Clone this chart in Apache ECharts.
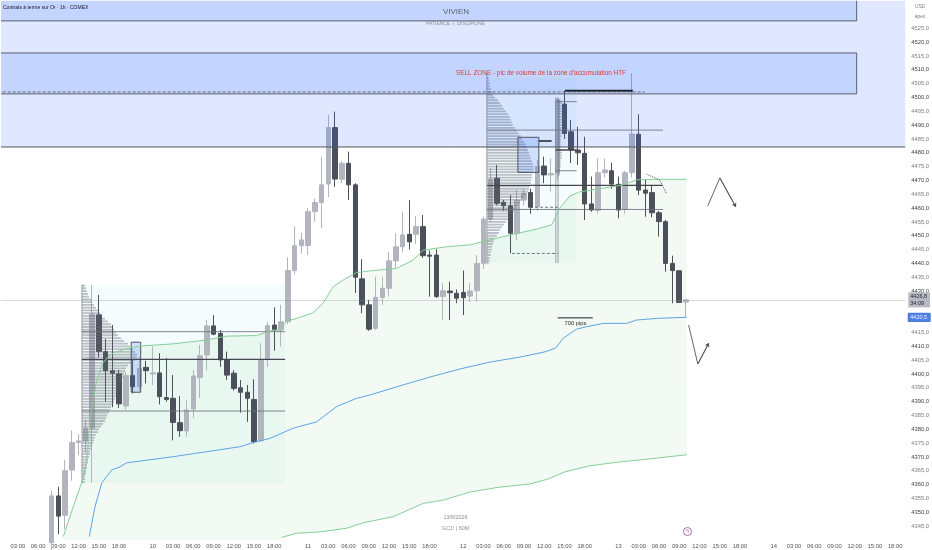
<!DOCTYPE html>
<html><head><meta charset="utf-8">
<script src="https://cdn.jsdelivr.net/npm/echarts@6/dist/echarts.min.js"></script>
<style>html,body{margin:0;padding:0;background:#fff}#c{width:932px;height:550px}</style>
</head><body><div id="c"></div><script>
// ---------- calendar / categories ----------
const days = [9, 10, 11, 12, 13, 14];
const sessionHours = [0,1,2,3,4,5,6,7,8,9,10,11,12,13,14,15,16,17,18,19,20,21,22];
const firstBar = [9, 1];
const lastBar = [14, 19];
const labelHours = [0, 3, 6, 9, 12, 15, 18];
const firstCandle = '9|8';

// ---------- hourly candles [open, high, low, close] ----------
const ohlc = [
 // day 9 (08:00 - 22:00)
 [4339.0,4357.8,4336.0,4355.9],[4355.9,4359.2,4342.1,4348.6],[4348.9,4369.0,4343.9,4365.0],
 [4365.3,4379.5,4361.4,4375.2],[4375.2,4378.3,4370.7,4375.8],[4375.7,4383.4,4371.4,4380.5],
 [4380.3,4432.2,4360.7,4421.7],[4421.4,4428.6,4406.0,4408.1],[4408.1,4412.7,4390.0,4401.2],
 [4401.2,4417.7,4388.0,4400.3],[4400.1,4401.5,4387.7,4389.2],[4388.4,4400.8,4387.0,4399.4],
 [4399.4,4405.0,4393.0,4395.4],[4395.4,4406.0,4394.0,4402.0],[4402.4,4404.8,4396.6,4401.2],
 // day 10
 [4400.0,4410.0,4396.0,4400.4],[4400.4,4407.5,4389.0,4391.8],[4391.5,4405.8,4390.0,4390.8],
 [4391.2,4399.6,4376.0,4382.5],[4382.4,4392.0,4377.3,4379.5],[4379.4,4390.6,4377.3,4387.0],
 [4387.3,4401.4,4384.1,4399.3],[4398.7,4410.5,4391.3,4406.6],[4406.9,4419.5,4401.4,4417.4],
 [4417.4,4421.3,4414.0,4414.4],[4414.7,4415.9,4402.6,4405.1],[4405.1,4408.1,4397.8,4399.6],
 [4400.3,4401.4,4394.0,4394.8],[4395.0,4397.8,4386.0,4393.4],[4393.4,4396.0,4382.7,4391.2],
 [4390.8,4398.1,4374.9,4375.5],[4375.9,4411.1,4375.5,4405.1],[4405.3,4418.9,4402.6,4417.5],
 [4417.7,4424.1,4408.4,4415.9],[4415.9,4425.0,4409.9,4418.9],[4418.9,4442.2,4418.0,4437.4],
 [4437.4,4453.5,4436.0,4446.4],[4446.4,4451.1,4443.6,4448.5],
 // day 11
 [4446.5,4459.9,4443.0,4458.7],[4458.7,4463.5,4455.0,4462.0],[4462.0,4478.6,4452.7,4468.4],
 [4468.7,4493.7,4464.0,4489.1],[4489.1,4494.9,4467.7,4470.5],[4470.4,4477.0,4469.0,4476.2],
 [4476.2,4480.4,4462.9,4468.4],[4468.4,4469.0,4429.3,4435.0],[4434.4,4441.5,4422.0,4425.0],
 [4425.0,4426.8,4415.6,4416.2],[4416.5,4435.2,4416.0,4427.7],[4427.7,4435.2,4425.0,4431.0],
 [4431.0,4444.2,4428.0,4440.9],[4440.9,4450.9,4438.0,4446.0],[4446.0,4458.7,4444.0,4450.3],
 [4450.5,4462.9,4445.0,4447.8],[4450.5,4457.1,4447.0,4453.3],[4453.3,4457.5,4442.0,4442.8],
 [4443.0,4444.6,4428.0,4442.6],[4443.0,4445.1,4427.5,4428.0],[4428.0,4432.8,4419.5,4430.1],
 [4430.0,4433.4,4419.5,4429.4],[4429.2,4430.6,4425.6,4427.4],
 // day 12
 [4429.5,4437.4,4421.3,4427.6],[4428.2,4432.8,4426.0,4430.0],[4430.1,4443.0,4426.2,4440.0],
 [4440.0,4457.0,4438.0,4456.0],[4456.0,4474.5,4455.0,4470.5],[4470.8,4475.6,4461.0,4461.7],
 [4462.1,4463.0,4459.0,4460.8],[4460.8,4464.7,4443.7,4450.9],[4450.9,4466.5,4448.5,4462.9],
 [4462.9,4466.8,4461.0,4465.4],[4465.6,4467.0,4458.0,4460.3],[4460.5,4477.4,4459.0,4475.0],
 [4475.2,4478.6,4469.0,4472.0],[4472.0,4478.0,4466.0,4472.5],[4472.5,4500.0,4470.0,4499.1],
 [4497.6,4502.4,4485.0,4487.0],[4487.6,4491.9,4476.3,4481.0],[4481.0,4489.4,4475.6,4480.0],
 [4479.8,4485.8,4455.7,4461.5],[4461.5,4471.4,4458.7,4459.3],[4459.1,4478.0,4458.0,4472.8],
 [4472.8,4478.0,4471.0,4473.8],[4473.5,4476.4,4467.0,4468.7],
 // day 13 (00:00 - 10:00)
 [4468.6,4471.4,4456.3,4459.3],[4459.6,4473.5,4458.0,4472.8],[4472.8,4508.8,4471.0,4486.8],
 [4486.7,4493.9,4464.7,4466.5],[4466.5,4470.2,4456.9,4465.4],[4465.6,4468.0,4456.7,4458.3],
 [4458.3,4459.0,4449.7,4455.1],[4455.1,4455.7,4437.0,4440.0],[4440.0,4442.8,4425.6,4437.4],
 [4437.3,4437.6,4425.7,4425.9],[4426.0,4427.2,4420.5,4426.8]
];
const lastPrice = 4426.8;
const vwapLast = 4420.5;

// ---------- bands: [bar index, price] ----------
const vwapUpper = [[8.73,4341.2],[10.21,4352.0],[11.6,4361.7],[12.2,4368.9],[12.69,4383.4],[13.68,4397.8],
 [14.61,4404.0],[15.65,4406.9],[16.64,4408.1],[18.6,4409.4],[20.1,4410.1],[25.0,4410.9],[29.97,4412.3],
 [32.94,4413.7],[37.38,4413.9],[39.8,4415.9],[40.83,4415.9],[41.83,4419.2],[43.31,4420.1],[45.72,4422.1],
 [47.25,4425.7],[48.73,4431.6],[50.21,4434.0],[52.2,4436.7],[54.66,4437.4],[58.12,4438.2],[60.58,4441.2],
 [62.06,4444.8],[65.53,4446.0],[68.98,4446.7],[73.91,4449.7],[78.86,4452.4],[81.09,4453.9],[82.31,4460.0],
 [83.8,4464.4],[85.28,4465.9],[88.73,4467.2],[91.69,4468.4],[93.68,4470.2],[96.14,4470.4],[101.09,4470.4]];
const vwap = [[12.58,4341.2],[13.43,4352.0],[14.42,4360.5],[15.9,4365.3],[17.13,4366.4],[18.12,4367.9],
 [20.09,4368.5],[25.03,4370.1],[29.97,4371.9],[34.91,4373.7],[36.88,4375.2],[39.35,4376.7],[42.8,4380.4],
 [46.27,4382.7],[49.23,4388.2],[52.2,4391.2],[54.17,4392.4],[58.61,4395.7],[63.06,4398.9],[67.5,4401.8],
 [71.94,4404.3],[76.39,4406.1],[80.09,4408.0],[81.7,4409.4],[82.8,4412.9],[84.79,4416.2],[86.27,4417.1],
 [88.73,4418.3],[92.2,4418.3],[93.68,4419.5],[96.64,4420.1],[101.09,4420.5]];
const vwapLower = [[41.09,4340.9],[43.31,4342.4],[46.76,4342.9],[50.71,4344.2],[53.17,4346.2],[57.62,4348.4],
 [62.06,4353.2],[65.03,4354.4],[68.98,4357.3],[73.43,4359.1],[77.87,4360.2],[80.54,4362.0],[83.06,4364.6],
 [86.76,4366.8],[91.2,4368.2],[95.65,4369.3],[101.13,4370.8]];

// ---------- volume profiles (rows of 1 point, from top price downward) ----------
const profile1Top = 4432;
const profile1Vol = [3,4,5,6,7,9,10,12,14,16,18,20,23,26,29,31,32,34,36,39,42,46,48,51,53,55,55,53,49,46,44,43,
 42,41,40,39,38,37,36,35,34,33,32,30,29,28,27,25,24,23,21,19,17,16,14,13,12,11,10,9,8,8,7,6,6,5,5,4,4,3,3,3];
const profile2Top = 4507;
const profile2Vol = [2,2,3,3,4,5,6,8,11,13,15,17,19,21,23,24,25,26,28,30,32,34,35,37,39,40,41,42,43,44,45,46,47,47,
 46,45,45,44,44,43,42,41,39,37,35,33,31,29,27,25,23,21,19,17,15,13,12,10,8,7,6,5,5,4,4,3,3,2];
const profile3Top = 4499;
const profile3Vol = [3,4,4,5,5,5,6,6,5,5,4,4,4,4,3,3,3,3,3,4,4,4,3,3,3,2,2,2];
const profileStart = [11.5, 71.5, 82.0];
const profileLevels = [ // [x0, x1, VAH, POC, VAL]
 [11.5, 41.6, 4415.3, 4405.3, 4386.6],
 [71.5, 97.6, 4488.2, 4468.2, 4459.5],
 [81.7, 84.8, 4498.5, 4481.0, 4473.5]];
const profileBoxes = [[11.5, 4360.6, 41.6, 4432.2], [71.5, 4440.1, 84.8, 4507.0]];
const profileAxes = [[11.5, 4360.6, 4432.2], [71.5, 4440.1, 4508.8], [81.72, 4440.1, 4500.0], [82.05, 4440.1, 4500.0]];

// ---------- drawings ----------
const zoneBand = [-1, 4482.1, 133.5, 4545];
const titledBoxes = [[-1, 4527.7, 126.3, 4545], [-1, 4501.3, 126.3, 4516.1]];
const smallBoxes = [[18.8, 4393.4, 20.2, 4411.5], [76.1, 4472.9, 79.2, 4485.6]];
const solidLevels = [[83.06, 93.13, 4502.4, 2], [79.2, 81.1, 4484.3, 1.5], [82.0, 87.2, 4420.3, 1]];
const dashedLevels = [[-1, 94.9, 4502.0], [75.2, 82.0, 4443.6], [77.9, 82.0, 4460.3]];
const zigzagUp = [[104.24, 4460.8], [106.02, 4470.9], [108.4, 4460.4]];
const zigzagDown = [[101.4, 4417.7], [102.76, 4403.6], [104.39, 4411.2]];
const projection = [[95.16, 4472.3], [97.13, 4470.1], [98.12, 4465.1]];

const yMin = 4340, yMax = 4535;

// ---------- build ----------
const categories = [];
days.forEach(d => sessionHours.forEach(h => {
  if ((d > firstBar[0] || h >= firstBar[1]) && (d < lastBar[0] || h <= lastBar[1])) categories.push(d + '|' + h);
}));
const start = categories.indexOf(firstCandle);
const candleData = categories.map((c, i) => {
  const r = ohlc[i - start];
  return r ? [r[0], r[3], r[2], r[1]] : ['-', '-', '-', '-'];
});
const barPx = 6.75;

function rectSeries(rects, style, z) {
  return { type: 'custom', xAxisIndex: 1, yAxisIndex: 0, z, silent: true, clip: true,
    data: rects,
    renderItem(params, api) {
      const a = api.coord([api.value(0), api.value(3)]);
      const b = api.coord([api.value(2), api.value(1)]);
      return { type: 'rect', shape: { x: a[0], y: a[1], width: b[0] - a[0], height: b[1] - a[1] }, style };
    } };
}
function hSegSeries(segs, color, width, type, z) {
  return { type: 'custom', xAxisIndex: 1, yAxisIndex: 0, z, silent: true, clip: true,
    data: segs.map(s => [s[0], s[2], s[1], s[3] || width]),
    renderItem(params, api) {
      const a = api.coord([api.value(0), api.value(1)]);
      const b = api.coord([api.value(2), api.value(1)]);
      return { type: 'line', shape: { x1: a[0], y1: a[1], x2: b[0], y2: b[1] },
        style: { stroke: color, lineWidth: api.value(3), lineDash: type === 'dashed' ? [3, 2] : null } };
    } };
}
function profileSeries(x0, top, vols) {
  return { type: 'custom', xAxisIndex: 1, yAxisIndex: 0, z: 3, silent: true, clip: true,
    data: vols.map((v, i) => [x0, top - i, v]),
    renderItem(params, api) {
      const p = api.value(1), v = api.value(2);
      const a = api.coord([x0, p + 0.33]);
      const b = api.coord([x0 + v / barPx, p - 0.33]);
      return { type: 'rect', shape: { x: a[0], y: a[1], width: b[0] - a[0], height: b[1] - a[1] },
        style: { fill: 'rgba(105,108,120,0.42)' } };
    } };
}
function lineSeries(data, color, width, type, z, extra) {
  return Object.assign({ type: 'line', xAxisIndex: 1, yAxisIndex: 0, data, symbol: 'none', silent: true, z,
    lineStyle: { color, width, type }, animation: false }, extra || {});
}

const levelSegs = [], pocSegs = [];
profileLevels.forEach(l => { levelSegs.push([l[0], l[1], l[2]], [l[0], l[1], l[4]]); pocSegs.push([l[0], l[1], l[3]]); });

const font = 'Liberation Sans';
const series = [
  // green band fill
  { type: 'custom', xAxisIndex: 1, yAxisIndex: 0, z: 1, silent: true, clip: true, data: [[0, 4400]],
    renderItem(params, api) {
      const pts = vwapUpper.map(p => api.coord(p));
      for (let i = vwapLower.length - 1; i >= 0; i--) pts.push(api.coord(vwapLower[i]));
      pts.push(api.coord([vwapLower[0][0], yMin]));
      pts.push(api.coord([vwapUpper[0][0], yMin]));
      return { type: 'polygon', shape: { points: pts }, style: { fill: 'rgba(76,175,80,0.065)' } };
    } },
  rectSeries(profileBoxes, { fill: 'rgba(0,172,193,0.04)' }, 1),
  { type: 'candlestick', xAxisIndex: 0, yAxisIndex: 0, data: candleData, barWidth: 5, z: 2, silent: true,
    itemStyle: { color: '#b2b5be', color0: '#4c505b', borderColor: '#b2b5be', borderColor0: '#4c505b', borderWidth: 1 },
    markLine: { silent: true, symbol: 'none', animation: false,
      data: [
        { yAxis: lastPrice, lineStyle: { color: 'rgba(140,143,152,0.35)', width: 1, type: 'solid' },
          label: { show: true, position: 'end', distance: 3, formatter: '4426,8\n34:09', backgroundColor: '#b8bbc3',
            color: '#1e222d', fontSize: 5.5, lineHeight: 6.5, padding: [1, 3, 1, 2], fontFamily: font } }
      ] } },
  profileSeries(profileStart[0], profile1Top, profile1Vol),
  profileSeries(profileStart[1], profile2Top, profile2Vol),
  profileSeries(profileStart[2], profile3Top, profile3Vol),
  { type: 'custom', xAxisIndex: 1, yAxisIndex: 0, z: 3, silent: true, clip: true, data: profileAxes,
    renderItem(params, api) {
      const a = api.coord([api.value(0), api.value(1)]);
      const b = api.coord([api.value(0), api.value(2)]);
      return { type: 'line', shape: { x1: a[0], y1: a[1], x2: b[0], y2: b[1] }, style: { stroke: 'rgba(120,123,134,0.7)', lineWidth: 1 } };
    } },
  rectSeries([zoneBand], { fill: 'rgba(41,98,255,0.15)' }, 3),
  rectSeries(titledBoxes, { fill: 'rgba(41,98,255,0.15)', stroke: '#5d606b', lineWidth: 1 }, 3),
  rectSeries(smallBoxes, { fill: 'rgba(41,98,255,0.18)', stroke: '#50535e', lineWidth: 1 }, 3),
  hSegSeries([[-1, 133.5, zoneBand[1]]], '#50535e', 1, 'solid', 4),
  hSegSeries(levelSegs, 'rgba(110,113,124,0.85)', 1, 'solid', 4),
  hSegSeries(pocSegs, '#434651', 1.3, 'solid', 4),
  hSegSeries(solidLevels, '#1e222d', 1, 'solid', 4),
  hSegSeries(dashedLevels, '#50535e', 0.8, 'dashed', 4),
  lineSeries(vwapUpper, '#86cf98', 1, 'solid', 4),
  lineSeries(vwap, '#5ea3e6', 1, 'solid', 4, { markLine: { silent: true, symbol: 'none', animation: false,
    data: [{ yAxis: vwapLast, lineStyle: { color: 'rgba(0,0,0,0)', width: 0 },
      label: { show: true, position: 'end', distance: 3, formatter: '4420,5', backgroundColor: '#4d7fe6',
        borderColor: '#2a56c6', borderWidth: 0.5, color: '#eef3ff', fontSize: 5.5, padding: [1, 3, 1, 2], fontFamily: font } }] } }),
  lineSeries(vwapLower, '#86cf98', 1, 'solid', 4),
  lineSeries(projection, '#50535e', 1, 'dotted', 4),
  lineSeries(zigzagUp, '#50535e', 0.9, 'solid', 4, { markLine: { silent: true, symbol: ['none', 'arrow'], symbolSize: 4,
    animation: false, label: { show: false }, lineStyle: { color: '#50535e', width: 0.9, type: 'solid' },
    data: [[{ coord: zigzagUp[1] }, { coord: zigzagUp[2] }]] } }),
  lineSeries(zigzagDown, '#50535e', 0.9, 'solid', 4, { markLine: { silent: true, symbol: ['none', 'arrow'], symbolSize: 4,
    animation: false, label: { show: false }, lineStyle: { color: '#50535e', width: 0.9, type: 'solid' },
    data: [[{ coord: zigzagDown[1] }, { coord: zigzagDown[2] }]] } })
];

const txt = (x, y, text, size, fill, extra) => ({ type: 'text', z: 50, silent: true,
  style: Object.assign({ x, y, text, fontSize: size, fill, fontFamily: font, textAlign: 'center', textVerticalAlign: 'middle' }, extra || {}) });

const chart = echarts.init(document.getElementById('c'), null, { renderer: 'canvas' });
chart.setOption({
  animation: false,
  backgroundColor: '#ffffff',
  grid: { left: 1, right: 26.5, top: 0.7, height: 539.2, containLabel: false },
  xAxis: [
    { type: 'category', data: categories, boundaryGap: true,
      axisLine: { show: false }, axisTick: { show: false }, splitLine: { show: false },
      axisLabel: { interval: (i, v) => labelHours.indexOf(+v.split('|')[1]) >= 0, margin: 3,
        fontSize: 5.8, color: '#50535e', fontFamily: font,
        formatter: v => { const p = v.split('|'); return p[1] === '0' ? p[0] : (p[1].length < 2 ? '0' : '') + p[1] + ':00'; } } },
    { type: 'value', min: -0.5, max: 133.5, show: false }
  ],
  yAxis: [{ type: 'value', position: 'right', min: yMin, max: yMax, interval: 5, scale: true,
    axisLine: { show: false }, axisTick: { show: false }, splitLine: { show: false },
    axisLabel: { margin: 6, fontSize: 5.8, fontFamily: font,
      formatter: v => { if (v > 4527 || v < 4342 || v === 4420 || v === 4425) return '';
        const s = v.toFixed(1).replace('.', ','); return (v % 10 === 0 ? '{a|' : '{b|') + s + '}'; },
      rich: { a: { color: '#3b3e48', fontSize: 5.8, fontFamily: font }, b: { color: '#7c7f88', fontSize: 5.8, fontFamily: font } } } }],
  series,
  graphic: [
    txt(3, 7.5, 'Contrats à terme sur Or · 1h · COMEX', 5, '#131722', { textAlign: 'left' }),
    txt(456, 12, 'VIVIEN', 8, '#5d606b'),
    txt(455.5, 23.5, 'PATIENCE  |  DISCIPLINE', 5, '#8f929b'),
    txt(541, 73, "SELL ZONE - pic de volume de la zone d'accumulation HTF", 6.4, '#de3b35'),
    txt(575.5, 323.5, '700 pips', 5.8, '#2a2e39'),
    txt(455.5, 517.5, '13/8/2026', 5.4, '#8a8d96'),
    txt(455.5, 528.5, 'GC1! | 60M', 5.4, '#8a8d96'),
    txt(920, 7, 'USD', 4.8, '#787b86'),
    txt(920, 17, 'apex', 4.8, '#787b86'),
    { type: 'circle', z: 50, silent: true, shape: { cx: 687.5, cy: 531.5, r: 4 }, style: { fill: '#fff', stroke: '#8e4f8e', lineWidth: 0.8 } },
    txt(687.5, 531.7, 'ϟ', 5, '#8e4f8e')
  ]
});
</script></body></html>
